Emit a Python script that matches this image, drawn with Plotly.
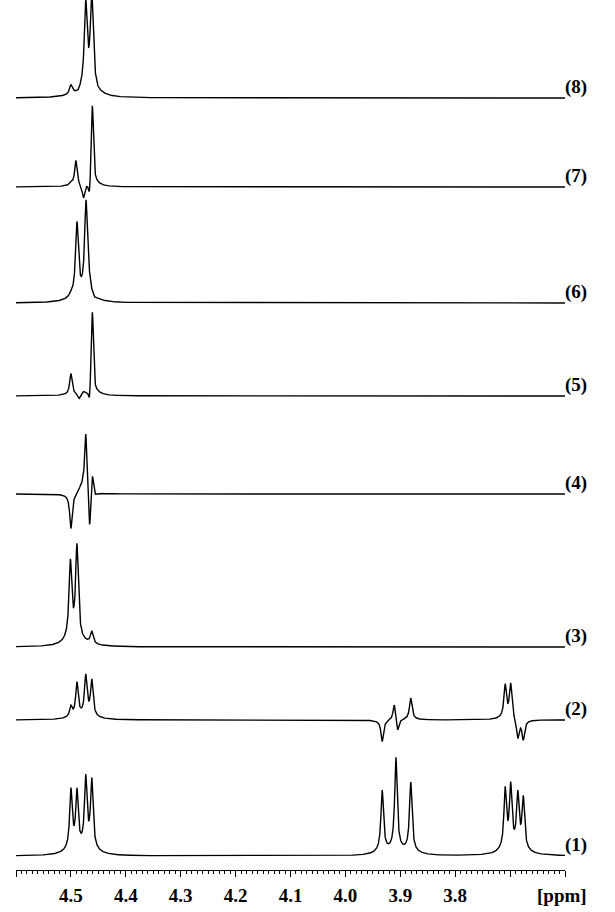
import numpy as np
import plotly.graph_objects as go

# ---------------- data ----------------
ppm_min, ppm_max = 3.6, 4.6
tick_values = [4.6, 4.5, 4.4, 4.3, 4.2, 4.1, 4.0, 3.9, 3.8, 3.7, 3.6]
tick_labels = ["", "4.5", "4.4", "4.3", "4.2", "4.1", "4.0", "3.9", "3.8", "", ""]
trace_labels = ["(1)", "(2)", "(3)", "(4)", "(5)", "(6)", "(7)", "(8)"]
unit_label = "[ppm]"

# peak lists: positions (ppm) and signed intensities for each spectrum
pos_1 = [4.500, 4.489, 4.473, 4.462, 3.933, 3.908, 3.881, 3.709, 3.699, 3.686, 3.676]
amp_1 = [58, 55, 68, 67, 60, 91, 68, 58, 60, 52, 50]

pos_2 = [4.500, 4.489, 4.473, 4.462, 3.933, 3.911, 3.905, 3.881, 3.709, 3.699, 3.686, 3.676]
amp_2 = [10, 33, 39, 35, -21, 17, -13, 21, 32, 34, -19, -19]

pos_3 = [4.501, 4.489, 4.462]
amp_3 = [76, 92, 12]

pos_4 = [4.500, 4.484, 4.479, 4.473, 4.466, 4.461, 4.456]
amp_4 = [-34, 3, 4, 62, -44, 24, -4]

pos_5 = [4.500, 4.485, 4.477, 4.466, 4.461, 4.456]
amp_5 = [21, -5, 2, -20, 86, -6]

pos_6 = [4.500, 4.489, 4.4725, 4.467, 4.457]
amp_6 = [2, 72, 92, 9, -2]

pos_7 = [4.500, 4.491, 4.477, 4.466, 4.461, 4.456]
amp_7 = [3, 25, -14, -22, 84, -4]

pos_8 = [4.500, 4.487, 4.473, 4.462, 4.450]
amp_8 = [9, -2, 84, 93, -1]

peak_positions = [pos_1, pos_2, pos_3, pos_4, pos_5, pos_6, pos_7, pos_8]
peak_amplitudes = [amp_1, amp_2, amp_3, amp_4, amp_5, amp_6, amp_7, amp_8]
line_widths_ppm = [0.0027, 0.0027, 0.0029, 0.0026, 0.0026, 0.0030, 0.0026, 0.0031]

# ---------------- layout constants ----------------
baselines = [14, 150, 223, 376, 474, 567, 683, 772]   # vertical offsets of the stacked spectra
W, H = 615, 912
m_l, m_r, m_t, m_b = 16, 50, 0, 42
plot_h = H - m_t - m_b
FONT = "Liberation Serif"

x = np.linspace(ppm_max, ppm_min, 6001)


def spectrum(positions, amps, w):
    y = np.zeros_like(x)
    for p, a in zip(positions, amps):
        y += a * w * w / ((x - p) ** 2 + w * w)
        # weak broad foot of each line
        y += 0.05 * a * (6 * w) ** 2 / ((x - p) ** 2 + (6 * w) ** 2)
    return y


fig = go.Figure()
for i in range(8):
    y = spectrum(peak_positions[i], peak_amplitudes[i], line_widths_ppm[i])
    fig.add_trace(go.Scatter(
        x=x, y=y + baselines[i], mode="lines",
        line=dict(color="black", width=1.4),
        hoverinfo="skip", showlegend=False, cliponaxis=False,
    ))
    fig.add_annotation(
        x=1, xref="paper", y=baselines[i], yref="y",
        text="<b>%s</b>" % trace_labels[i], showarrow=False,
        xanchor="left", yanchor="middle", yshift=11, xshift=-2,
        font=dict(family=FONT, size=19, color="black"),
    )

fig.add_annotation(
    x=0.9945, xref="paper", y=-25.0 / plot_h, yref="paper",
    text="<b>%s</b>" % unit_label, showarrow=False, xanchor="center", yanchor="middle",
    font=dict(family=FONT, size=19, color="black"),
)

fig.update_layout(
    template="none",
    width=W, height=H,
    margin=dict(l=m_l, r=m_r, t=m_t, b=m_b, pad=0, autoexpand=False),
    paper_bgcolor="white", plot_bgcolor="white",
    hovermode=False,
    xaxis=dict(
        range=[ppm_max, ppm_min], automargin=False, fixedrange=True,
        tickmode="array", tickvals=tick_values, ticktext=tick_labels,
        ticks="outside", ticklen=6, tickwidth=1, tickcolor="black",
        showline=True, linecolor="black", linewidth=1,
        showgrid=False, zeroline=False,
        tickfont=dict(family=FONT, size=19, color="black", weight="bold"),
        ticklabelstandoff=2,
        minor=dict(tickmode="linear", tick0=3.6, dtick=0.01, ticks="outside",
                   ticklen=3, tickwidth=1, tickcolor="black", showgrid=False),
    ),
    yaxis=dict(range=[0, plot_h], visible=False, showgrid=False, zeroline=False,
               automargin=False, fixedrange=True),
)

fig.write_html(
    "out.html",
    config={"displayModeBar": False, "staticPlot": True},
    post_script="document.body.style.margin='0';document.body.style.padding='0';"
                "document.body.style.overflow='hidden';",
)
